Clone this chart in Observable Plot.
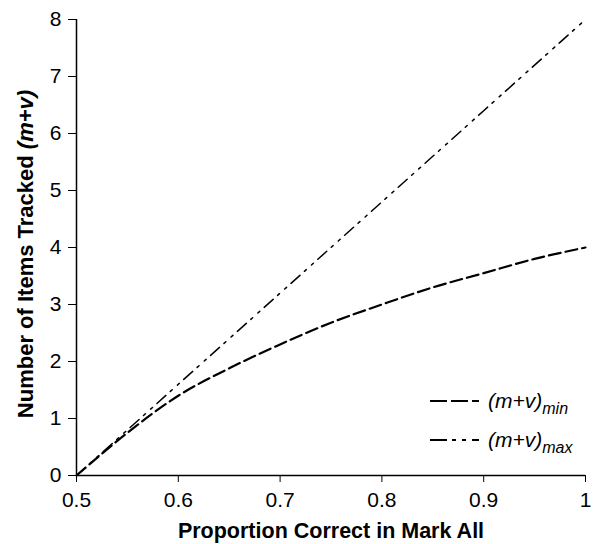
<!DOCTYPE html>
<html>
<head>
<meta charset="utf-8">
<script src="https://cdn.jsdelivr.net/npm/d3@7"></script>
<script src="https://cdn.jsdelivr.net/npm/@observablehq/plot@0.6"></script>
<style>
  html, body { margin: 0; padding: 0; background: #fff; }
  #chart { width: 594px; height: 544px; }
  svg { font-family: "Liberation Sans", Arial, sans-serif; }
</style>
</head>
<body>
<div id="chart"></div>
<script>
// ---- data ----
const proportionCorrect = [0.5, 0.55, 0.6, 0.65, 0.7, 0.75, 0.8, 0.85, 0.9, 0.95, 1.0];
const mvMin = [0, 0.75, 1.4, 1.88, 2.3, 2.68, 3.0, 3.3, 3.55, 3.8, 4.0];
const mvMax = [0, 0.8, 1.6, 2.4, 3.2, 4.0, 4.8, 5.6, 6.4, 7.2, 8.0];
const xTicks = [0.5, 0.6, 0.7, 0.8, 0.9, 1];
const yTicks = [0, 1, 2, 3, 4, 5, 6, 7, 8];

const minData = proportionCorrect.map((p, i) => ({p, v: mvMin[i]}));
const maxData = proportionCorrect.map((p, i) => ({p, v: mvMax[i]}));

const W = 594, H = 544;
const tickFont = 21;
const titleFont = 21.5;
const ff = "'Liberation Sans', Arial, sans-serif";
const dashMin = "12,5";
const dashMax = "12,6,2.5,7,2.5,6";
const legendDashMin = "17,4";
const legendDashMax = "17,5,4,6,4,6";

const chart = Plot.plot({
  width: W,
  height: H,
  marginLeft: 76,
  marginRight: 9,
  marginTop: 19,
  marginBottom: 69,
  style: {fontSize: tickFont + "px", fontFamily: ff, color: "#000", background: "#fff"},
  x: {domain: [0.5, 1]},
  y: {domain: [0, 8]},
  marks: [
    Plot.axisX({ticks: xTicks, tickSize: 7, tickPadding: 10, label: null,
      tickFormat: d => d === 1 ? "1" : d3.format(".1f")(d), fontSize: tickFont}),
    Plot.axisY({ticks: yTicks, tickSize: 8, tickPadding: 7, label: null, fontSize: tickFont}),
    Plot.ruleY([0], {stroke: "#000", strokeWidth: 1.5}),
    Plot.ruleX([0.5], {stroke: "#000", strokeWidth: 1.5}),
    Plot.line(maxData, {x: "p", y: "v", stroke: "#000", strokeWidth: 1.5,
      strokeDasharray: dashMax}),
    Plot.line(minData, {x: "p", y: "v", stroke: "#000", strokeWidth: 2.2,
      strokeDasharray: dashMin, curve: "monotone-x"})
  ]
});

document.getElementById("chart").appendChild(chart);

// ---- titles and legend ----
const svg = d3.select(chart);

svg.append("text")
  .attr("x", 331).attr("y", 538)
  .attr("text-anchor", "middle")
  .attr("font-family", ff).attr("font-size", titleFont).attr("font-weight", "bold")
  .attr("fill", "#000")
  .text("Proportion Correct in Mark All");

const yt = svg.append("text")
  .attr("transform", "translate(33,254) rotate(-90)")
  .attr("text-anchor", "middle")
  .attr("font-family", ff).attr("font-size", titleFont + 0.5).attr("font-weight", "bold")
  .attr("fill", "#000");
yt.append("tspan").text("Number of Items Tracked ");
yt.append("tspan").attr("font-style", "italic").text("(m+v)");

const legend = [
  {name: "min", dash: legendDashMin, width: 2.2, y: 401},
  {name: "max", dash: legendDashMax, width: 1.8, y: 440}
];
legend.forEach(l => {
  svg.append("line")
    .attr("x1", 430).attr("x2", 479).attr("y1", l.y).attr("y2", l.y)
    .attr("stroke", "#000").attr("stroke-width", l.width).attr("stroke-dasharray", l.dash);
  const t = svg.append("text")
    .attr("x", 488).attr("y", l.y + 7)
    .attr("text-anchor", "start")
    .attr("font-family", ff).attr("font-size", tickFont).attr("font-style", "italic")
    .attr("fill", "#000");
  t.append("tspan").text("(m+v)");
  t.append("tspan").attr("font-size", 16).attr("dy", 6).text(l.name);
});
</script>
</body>
</html>
